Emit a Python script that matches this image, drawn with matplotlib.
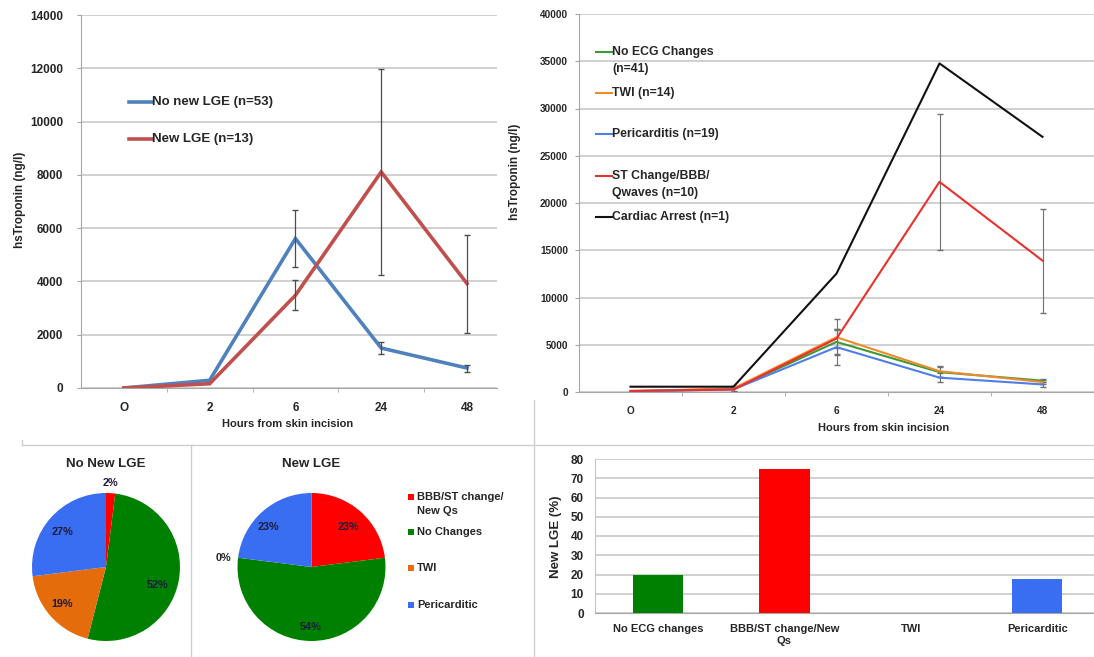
import matplotlib
matplotlib.use('Agg')
import matplotlib.pyplot as plt
from matplotlib.lines import Line2D
from matplotlib.patches import Rectangle

plt.rcParams['font.family'] = ['Liberation Sans', 'DejaVu Sans']
plt.rcParams['font.weight'] = 'bold'

W, H = 1094, 657

def fx(x):
    return x / W

def fy(y):
    return 1 - y / H

hours = ['O', '2', '6', '24', '48']

# troponin by LGE status
lge_labels = ['No new LGE (n=53)', 'New LGE (n=13)']
no_lge = [0, 290, 5610, 1500, 750]
no_lge_lo = [0, 0, 4545, 1265, 600]
no_lge_hi = [0, 0, 6670, 1730, 850]
new_lge = [0, 160, 3480, 8110, 3920]
new_lge_lo = [0, 0, 2920, 4260, 2080]
new_lge_hi = [0, 0, 4070, 11960, 5760]

# troponin by ECG group
ecg_labels = ['No ECG Changes\n(n=41)', 'TWI (n=14)', 'Pericarditis (n=19)',
              'ST Change/BBB/\nQwaves (n=10)', 'Cardiac Arrest (n=1)']
ecg_none = [80, 320, 5300, 2100, 1200]
ecg_none_err = [0, 300, 1300, 500, 150]
ecg_twi = [100, 380, 5800, 2200, 1050]
ecg_twi_err = [0, 300, 1900, 600, 200]
ecg_peri = [60, 280, 4750, 1520, 800]
ecg_peri_err = [0, 250, 1900, 450, 250]
ecg_st = [120, 260, 5650, 22240, 13900]
ecg_st_err = [0, 250, 1000, 7200, 5500]
ecg_arrest = [560, 560, 12530, 34770, 27000]

# ECG category share (%) in each LGE group
pie_labels = ['BBB/ST change/\nNew Qs', 'No Changes', 'TWI', 'Pericarditic']
pie_no_lge = [2, 52, 19, 27]
pie_new_lge = [23, 54, 0, 23]

# new LGE rate by ECG category
bar_cats = ['No ECG changes', 'BBB/ST change/New\nQs', 'TWI', 'Pericarditic']
bar_vals = [20, 75, 0, 17.5]

grid_c = '#c4c4c4'
txt_c = '#262626'
err_c = '#4d4d4d'


def style_axes(ax, fs):
    for s in ['top', 'right']:
        ax.spines[s].set_visible(False)
    ax.spines['left'].set_color('#a6a6a6')
    ax.spines['bottom'].set_color('#a6a6a6')
    ax.grid(axis='y', color=grid_c, linewidth=1.1)
    ax.set_axisbelow(True)
    ax.tick_params(axis='both', colors='#a6a6a6', labelcolor=txt_c, labelsize=fs, length=3)
    ax.tick_params(axis='x', which='major', length=0, pad=10)
    ax.tick_params(axis='x', which='minor', length=3, color='#a6a6a6')
    for lab in ax.get_xticklabels() + ax.get_yticklabels():
        lab.set_fontweight('bold')


fig = plt.figure(figsize=(W / 100, H / 100), dpi=100)

# ---- top left: LGE groups
ax1 = fig.add_axes([fx(81), fy(388), fx(497) - fx(81), fy(15) - fy(388)])
x = range(len(hours))
for vals, lo, hi, c in [(no_lge, no_lge_lo, no_lge_hi, '#4f81bd'),
                        (new_lge, new_lge_lo, new_lge_hi, '#c0504d')]:
    ax1.plot(x, vals, color=c, linewidth=2.6, solid_joinstyle='miter', zorder=3)
    idx = [i for i in x if hi[i] > 0]
    ax1.errorbar(idx, [vals[i] for i in idx],
                 yerr=[[vals[i] - lo[i] for i in idx], [hi[i] - vals[i] for i in idx]],
                 fmt='none', ecolor=err_c, elinewidth=0.9, capsize=2.5, zorder=4)
ax1.set_ylim(0, 14000)
ax1.set_yticks(range(0, 14001, 2000))
ax1.set_xlim(-0.5, 4.35)
ax1.set_xticks(list(x))
ax1.set_xticklabels(hours)
ax1.set_xticks([0.5, 1.5, 2.5, 3.5], minor=True)
style_axes(ax1, 8.5)
ax1.tick_params(axis='y', pad=10)

for lab, c, yy in [(lge_labels[0], '#4f81bd', 102), (lge_labels[1], '#c0504d', 139)]:
    fig.add_artist(Line2D([fx(129), fx(152)], [fy(yy), fy(yy)], color=c, linewidth=2.6))
    fig.text(fx(152), fy(yy), lab, fontsize=9.5, fontweight='bold', color=txt_c, va='center')

fig.text(fx(20), fy(200), 'hsTroponin (ng/l)', rotation=90, fontsize=8.5, fontweight='bold',
         color=txt_c, ha='center', va='center')
fig.text(fx(288), fy(424), 'Hours from skin incision', fontsize=8, fontweight='bold',
         color=txt_c, ha='center', va='center')

# ---- top right: ECG groups
ax2 = fig.add_axes([fx(579), fy(392), fx(1094) - fx(579), fy(14) - fy(392)])
ecg_series = [(ecg_none, ecg_none_err, '#3d9b35'),
              (ecg_twi, ecg_twi_err, '#f08a2e'),
              (ecg_peri, ecg_peri_err, '#4f7fe6'),
              (ecg_st, ecg_st_err, '#e8312b'),
              (ecg_arrest, None, '#111111')]
for vals, err, c in ecg_series:
    ax2.plot(x, vals, color=c, linewidth=1.5, zorder=3)
    if err is not None:
        idx = [i for i in x if err[i] > 0]
        ax2.errorbar(idx, [vals[i] for i in idx], yerr=[err[i] for i in idx],
                     fmt='none', ecolor='#707070', elinewidth=0.8, capsize=2, zorder=2)
ax2.set_ylim(0, 40000)
ax2.set_yticks(range(0, 40001, 5000))
ax2.set_xlim(-0.5, 4.5)
ax2.set_xticks(list(x))
ax2.set_xticklabels(hours)
ax2.set_xticks([0.5, 1.5, 2.5, 3.5], minor=True)
style_axes(ax2, 7.2)
ax2.tick_params(axis='y', pad=5)

leg_rows = [52, 93, 134, 176, 217]
for lab, (vals, err, c), yy in zip(ecg_labels, ecg_series, leg_rows):
    fig.add_artist(Line2D([fx(596), fx(612)], [fy(yy), fy(yy)], color=c, linewidth=1.5))
    for k, line in enumerate(lab.split('\n')):
        fig.text(fx(612), fy(yy + 17 * k), line, fontsize=8.8, fontweight='bold',
                 color=txt_c, va='center')

fig.text(fx(515), fy(172), 'hsTroponin (ng/l)', rotation=90, fontsize=8.5, fontweight='bold',
         color=txt_c, ha='center', va='center')
fig.text(fx(884), fy(428), 'Hours from skin incision', fontsize=8, fontweight='bold',
         color=txt_c, ha='center', va='center')

# ---- bottom: pies
pie_colors = ['#ff0000', '#008000', '#e46c0a', '#3a6ef2']
r = 74
pie_specs = [(106, pie_no_lge, 'No New LGE'), (311.5, pie_new_lge, 'New LGE')]
pie_lab_pos = [
    [(110, 483), (158, 585), (62, 604), (63, 532)],
    [(348, 527), (311, 627), (223, 558), (268, 527)],
]
for (cx, vals, title), lpos in zip(pie_specs, pie_lab_pos):
    axp = fig.add_axes([fx(cx - r), fy(567 + r), 2 * r / W, 2 * r / H])
    axp.pie(vals, colors=pie_colors, startangle=90, counterclock=False,
            wedgeprops=dict(linewidth=0))
    axp.set_xlim(-1, 1)
    axp.set_ylim(-1, 1)
    axp.set_aspect('equal')
    axp.axis('off')
    for v, (px, py) in zip(vals, lpos):
        fig.text(fx(px), fy(py), f'{v}%', fontsize=7.8, fontweight='bold',
                 color='#1c1c3a' if v > 0 else txt_c, ha='center', va='center')
    fig.text(fx(cx), fy(464), title, fontsize=9.5, fontweight='bold', color=txt_c,
             ha='center', va='center')

for lab, c, yy in zip(pie_labels, pie_colors, [497, 532, 568, 605]):
    fig.add_artist(Rectangle((fx(408), fy(yy + 3)), 6 / W, 6 / H, color=c, linewidth=0))
    for k, line in enumerate(lab.split('\n')):
        fig.text(fx(417), fy(yy + 14 * k), line, fontsize=8, fontweight='bold',
                 color=txt_c, va='center')

# ---- bottom right: bars
ax3 = fig.add_axes([fx(595), fy(613), fx(1094) - fx(595), fy(459) - fy(613)])
bar_colors = ['#008000', '#ff0000', '#e46c0a', '#3a6ef2']
ax3.bar(range(len(bar_cats)), bar_vals, width=0.4, color=bar_colors, zorder=3)
ax3.set_ylim(0, 80)
ax3.set_yticks(range(0, 81, 10))
ax3.set_xlim(-0.5, 3.45)
ax3.set_xticks(range(len(bar_cats)))
ax3.set_xticklabels(bar_cats)
style_axes(ax3, 8)
ax3.tick_params(axis='y', length=0, pad=8, labelsize=8.5)
ax3.tick_params(axis='x', pad=8)
ax3.spines['left'].set_color(grid_c)
fig.text(fx(556), fy(537), 'New LGE (%)', rotation=90, fontsize=9.5, fontweight='bold',
         color=txt_c, ha='center', va='center')

# panel dividers
sep = '#cfcfcf'
fig.add_artist(Line2D([fx(22), fx(1094)], [fy(445), fy(445)], color=sep, linewidth=1))
fig.add_artist(Line2D([fx(22), fx(22)], [fy(440), fy(445)], color=sep, linewidth=1))
fig.add_artist(Line2D([fx(534), fx(534)], [fy(400), fy(657)], color=sep, linewidth=1))
fig.add_artist(Line2D([fx(191), fx(191)], [fy(445), fy(657)], color=sep, linewidth=1))

fig.savefig('out.png', dpi=100)
